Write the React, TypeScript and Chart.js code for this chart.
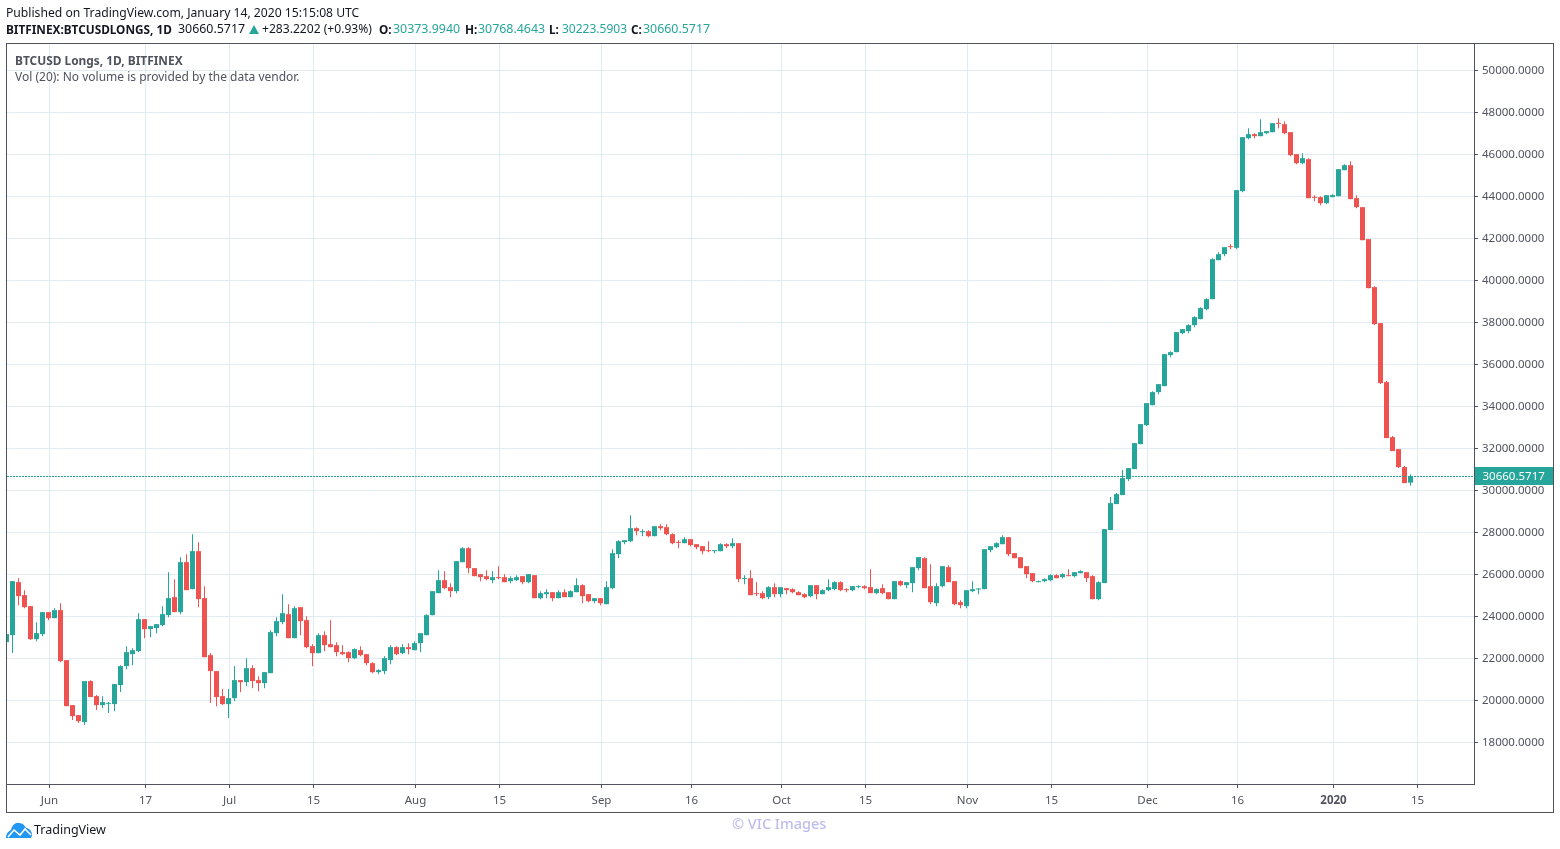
import { useEffect, useRef } from "react"
import { Chart, registerables } from "chart.js"

Chart.register(...registerables)

// daily candles, 25 May 2019 to 14 Jan 2020
const opens = [
  22779,23113,25636,25017,24493,22922,23160,24208,23922,24303,
  21922,19780,19304,18971,20923,20208,19780,19843,19828,20732,
  21637,22208,22351,23874,23398,23446,23589,24065,24922,24208,
  26588,25303,27112,24874,22160,21399,20208,19828,20113,20970,
  20874,21541,20970,20827,21303,23207,23731,24112,22969,24445,
  23826,22588,22255,23112,22684,22636,22303,22303,22017,22398,
  22207,21779,21350,21398,21922,22541,22255,22541,22398,22731,
  23112,24064,25112,25730,25397,25207,26587,27254,26302,26016,
  25921,25730,25873,25873,25683,25730,25921,25635,25968,24873,
  25064,25159,24873,25159,24921,25159,25492,25064,24730,24873,
  24587,25349,26968,27539,27587,28206,28016,28063,27825,28301,
  28254,27920,27555,27492,27682,27444,27349,27159,27111,27111,
  27444,27349,27492,25778,25826,25112,25112,24921,25397,25064,
  25350,25302,25159,25064,24969,25492,25064,25254,25302,25635,
  25302,25254,25397,25445,25397,25112,25350,25159,24826,25683,
  25492,25588,26302,26778,25445,24635,25445,26349,25683,24683,
  24493,25207,25286,25302,27159,27302,27444,27778,27016,26825,
  26397,26064,25635,25683,25730,25968,25873,25968,25921,26064,
  26111,25921,24826,25591,28114,29352,29781,30542,31018,32208,
  33113,34065,34684,34970,36446,36589,37493,37588,37874,38160,
  38636,39112,40969,41254,41635,41556,44255,46778,46968,46873,
  47016,47064,47492,47444,47064,46016,45588,45778,43984,43969,
  43683,43969,44017,45254,45492,43921,43493,41969,39684,37970,
  35161,32542,31971,31114,30373.994,
]
const highs = [
  23160,25684,25826,25255,24493,23732,24208,24208,24398,24636,
  21922,19780,19304,20923,20970,20256,20208,19923,20780,21684,
  22589,22494,24160,23874,23541,23636,24493,26112,25779,26826,
  26969,27921,27540,25446,22256,21399,20542,20542,21637,20970,
  22017,21684,21160,21350,23350,23969,25064,24588,24493,24445,
  24017,22684,23207,23302,23826,22779,22636,22350,22493,22588,
  22207,21826,21493,22112,22636,22588,22684,22731,22826,23207,
  24112,25207,26207,26159,25588,26635,27302,27302,26302,26016,
  26206,26159,26397,26016,25921,25968,25921,26016,25968,25206,
  25302,25159,25254,25302,25254,25826,25540,25064,24873,24873,
  25683,27206,27635,27635,28825,28254,28158,28111,28301,28396,
  28396,27968,27635,27777,27682,27444,27349,27587,27159,27492,
  27492,27730,27492,25968,26207,25635,25207,25445,25588,25397,
  25350,25350,25207,25112,25492,25492,25302,25778,25683,25683,
  25350,25445,25492,25492,26254,25350,25540,25159,25683,25730,
  25635,26349,26826,26826,26492,25588,26397,26445,25683,24778,
  25254,25683,25350,27206,27349,27540,27873,27778,27016,26825,
  26397,26064,25714,25826,26016,26016,26064,26254,26111,26206,
  26111,25968,25683,28162,29685,29876,30971,31066,32256,33161,
  34160,34732,35065,36493,36636,37541,37684,37922,38303,38731,
  39160,41064,41350,41588,41730,44302,46825,47254,47016,47682,
  47111,47492,47730,47587,47064,46016,46064,45826,44064,44017,
  44064,44111,45302,45540,45683,44064,43493,41969,39731,37970,
  35209,32590,31971,31162,30768.4643,
]
const lows = [
  22779,22256,24541,24398,22875,22827,23065,23827,23922,21827,
  19732,19066,18923,18828,20161,19542,19637,19399,19494,20399,
  21494,21684,22303,22970,23017,23208,23541,23970,24208,24113,
  25255,25303,24446,22065,19875,19732,19780,19161,19970,20398,
  20684,20589,20446,20589,21303,23064,23636,22969,22969,23112,
  22493,21636,22255,22350,22541,22112,22160,21826,21969,22112,
  21684,21303,21255,21255,21731,22160,22207,22207,22398,22303,
  23112,24064,25112,25302,24921,25112,26587,26064,25921,25683,
  25730,25587,25778,25635,25587,25683,25540,25587,24873,24826,
  24873,24730,24873,24921,24921,25159,24635,24683,24635,24540,
  24587,25302,26778,27444,27539,27873,27825,27777,27825,28111,
  27873,27444,27254,27492,27349,27206,26968,27064,27016,27111,
  27254,27254,25635,25540,25016,24969,24826,24826,24921,24921,
  25064,25112,25016,24873,24921,24826,25064,25207,25254,25207,
  25159,25207,25350,25302,25112,25064,25064,24826,24826,25445,
  25350,25159,26207,25350,24588,24493,25397,25635,24540,24397,
  24397,25159,25064,25302,27064,27254,27444,26873,26778,26302,
  25826,25635,25635,25635,25683,25826,25826,25921,25873,26064,
  25635,24826,24778,25591,28114,29352,29781,30447,31018,32208,
  33066,34065,34589,34970,36351,36589,37446,37493,37779,38160,
  38588,39112,40969,41159,41492,41492,44207,46730,46778,46873,
  46968,47064,47254,46968,45921,45540,45540,43921,43778,43588,
  43636,43969,44017,45254,43874,43445,41921,39636,37875,35066,
  32495,31876,31066,30352,30223.5903,
]
const closes = [
  23160,25684,24970,24446,22922,23208,24208,23922,24303,21875,
  19732,19256,19018,20923,20161,19780,19923,19891,20780,21637,
  22303,22399,23874,23398,23541,23636,24113,24874,24208,26588,
  25255,27112,24827,22065,21399,20161,19828,20113,20970,20874,
  21541,20922,20827,21350,23255,23779,24159,22969,24397,23779,
  22541,22255,23112,22636,22541,22303,22207,22017,22445,22160,
  21779,21350,21445,22017,22541,22207,22541,22445,22731,23207,
  24064,25207,25730,25350,25207,26635,27254,26302,25921,25873,
  25778,25873,25826,25635,25826,25873,25635,26016,24873,25111,
  25159,24873,25159,24921,25206,25492,24968,24730,24873,24635,
  25397,27016,27587,27635,28206,28063,28063,27825,28301,28206,
  27920,27492,27508,27682,27397,27301,27111,27111,27159,27444,
  27349,27492,25778,25826,25016,25064,24873,25397,25064,25397,
  25254,25159,25016,24921,25492,25064,25254,25397,25635,25254,
  25254,25445,25445,25350,25112,25302,25112,24826,25683,25492,
  25635,26349,26826,25350,24683,25445,26397,25635,24588,24540,
  25254,25302,25318,27206,27349,27492,27778,26968,26778,26302,
  26016,25683,25683,25778,25968,25826,26016,25921,26111,26159,
  25826,24826,25635,28162,29399,29828,30590,31066,32256,33161,
  34160,34684,35065,36493,36589,37541,37684,37874,38255,38683,
  39112,41016,41254,41588,41588,44302,46825,46968,46873,47064,
  47111,47492,47460,47016,45968,45588,45826,43921,43937,43683,
  44064,44064,45302,45492,43874,43493,41921,39636,37922,35113,
  32495,31876,31114,30352,30660.5717,
]

// day index of each time axis label (0 = first candle)
const xTickDays = [7, 23, 37, 51, 68, 82, 99, 114, 129, 143, 160, 174, 190, 205, 221, 235]
const xTickLabels = ["Jun", "17", "Jul", "15", "Aug", "15", "Sep", "16", "Oct", "15", "Nov", "15", "Dec", "16", "2020", "15"]
const yTicks = [18000, 20000, 22000, 24000, 26000, 28000, 30000, 32000, 34000, 36000, 38000, 40000, 42000, 44000, 46000, 48000, 50000]

const UP = "#26a69a"
const DOWN = "#ef5350"
const GRID = "#e1ecf2"
const LINE = "#50535e"
const FONT = '"Noto Sans", sans-serif'

const colorAt = (i: number) => (closes[i] >= opens[i] ? UP : DOWN)

// pane frame, last price line and its label on the price axis
const framePlugin = {
  id: "frame",
  afterDatasetsDraw(chart: any) {
    const { ctx, chartArea, scales } = chart
    const last = closes[closes.length - 1]
    const y = Math.floor(scales.y.getPixelForValue(last)) + 0.5
    ctx.save()
    ctx.strokeStyle = UP
    ctx.lineWidth = 1
    ctx.setLineDash([2, 1])
    ctx.beginPath()
    ctx.moveTo(chartArea.left, y)
    ctx.lineTo(chartArea.right, y)
    ctx.stroke()
    ctx.setLineDash([])
    ctx.strokeStyle = LINE
    ctx.strokeRect(6.5, 43.5, 1547, 769)
    ctx.fillStyle = UP
    ctx.fillRect(1475, y - 9.5, 78, 18)
    ctx.fillStyle = "#ffffff"
    ctx.font = "11.5px " + FONT
    ctx.textBaseline = "middle"
    ctx.fillText(last.toFixed(4), 1482.5, y + 0.5)
    ctx.restore()
  },
}

const abs = (left: number, top: number, extra: any = {}): any => ({
  position: "absolute",
  left,
  top,
  lineHeight: "16px",
  whiteSpace: "nowrap",
  ...extra,
})

export default function App() {
  const chartRef = useRef<HTMLCanvasElement>(null)

  useEffect(() => {
    if (!chartRef.current) return
    const days = opens.map((_, i) => i)
    const chart = new Chart(chartRef.current, {
      type: "bar",
      data: {
        datasets: [
          {
            label: "wick",
            data: days.map((i) => ({ x: i, y: [lows[i], highs[i]] })) as any,
            backgroundColor: (c: any) => colorAt(c.dataIndex),
            barThickness: 1,
            inflateAmount: 0,
            borderWidth: 0,
          },
          {
            label: "body",
            data: days.map((i) => ({ x: i, y: [opens[i], closes[i]] })) as any,
            backgroundColor: (c: any) => colorAt(c.dataIndex),
            barThickness: 5,
            minBarLength: 1,
            inflateAmount: 0,
            borderWidth: 0,
          },
        ],
      },
      options: {
        responsive: false,
        animation: false,
        layout: { padding: { left: 7, top: 44, right: 6, bottom: 36 } },
        plugins: { legend: { display: false }, tooltip: { enabled: false } },
        datasets: { bar: { grouped: false } },
        scales: {
          x: {
            type: "linear",
            offset: false,
            min: 0.0833,
            max: 244.5833,
            afterBuildTicks: (s: any) => {
              s.ticks = xTickDays.map((d) => ({ value: d + 1 / 6 }))
            },
            afterFit: (s: any) => {
              s.height = 29
            },
            grid: { offset: false, color: GRID, tickColor: LINE, tickLength: 4 },
            border: { color: LINE },
            ticks: {
              callback: (_v: any, i: number) => xTickLabels[i],
              autoSkip: false,
              maxRotation: 0,
              color: LINE,
              padding: 6,
              font: (c: any) => ({
                family: FONT,
                size: 11.5,
                weight: xTickLabels[c.index] === "2020" ? "bold" : "normal",
              }),
            },
          },
          y: {
            type: "linear",
            position: "right",
            min: 16023.8,
            max: 51261.9,
            afterBuildTicks: (s: any) => {
              s.ticks = yTicks.map((v) => ({ value: v }))
            },
            afterFit: (s: any) => {
              s.width = 80
            },
            grid: { color: GRID, tickColor: LINE, tickLength: 4 },
            border: { color: LINE },
            ticks: {
              callback: (v: any) => Number(v).toFixed(4),
              color: LINE,
              padding: 4,
              font: { family: FONT, size: 11.5 },
            },
          },
        },
      } as any,
      plugins: [framePlugin],
    })

    return () => {
      chart.destroy()
    }
  }, [])

  const bold = { fontWeight: 700, color: "#131722", fontSize: 11.8 }
  const val = { color: UP, fontSize: 12.4 }

  return (
    <div
      style={{
        position: "absolute",
        left: 0,
        top: 0,
        width: 1560,
        height: 849,
        overflow: "hidden",
        background: "#fff",
        fontFamily: FONT,
        fontSize: 12.1,
        color: "#131722",
      }}
    >
      <canvas ref={chartRef} width={1560} height={849} style={{ position: "absolute", left: 0, top: 0 }} />

      <div style={abs(6, 4.5, { fontSize: 12.17 })}>Published on TradingView.com, January 14, 2020 15:15:08 UTC</div>
      <div style={abs(6, 21, bold)}>BITFINEX:BTCUSDLONGS, 1D</div>
      <div style={abs(178, 21, { fontSize: 12.4 })}>30660.5717</div>
      <div style={abs(249, 21, { width: 0, height: 0, borderLeft: "5px solid transparent", borderRight: "5px solid transparent", borderBottom: `9px solid ${UP}`, top: 25 })} />
      <div style={abs(262, 21)}>+283.2202 (+0.93%)</div>
      <div style={abs(379, 21, bold)}>O:</div>
      <div style={abs(393, 21, val)}>30373.9940</div>
      <div style={abs(465, 21, bold)}>H:</div>
      <div style={abs(478, 21, val)}>30768.4643</div>
      <div style={abs(549, 21, bold)}>L:</div>
      <div style={abs(562, 21, { color: UP, fontSize: 12 })}>30223.5903</div>
      <div style={abs(631, 21, bold)}>C:</div>
      <div style={abs(643, 21, val)}>30660.5717</div>

      <div style={abs(15, 51.5, { color: LINE, fontWeight: 700, fontSize: 11.9 })}>BTCUSD Longs, 1D, BITFINEX</div>
      <div style={abs(15, 69, { color: LINE, fontSize: 12 })}>Vol (20): No volume is provided by the data vendor.</div>

      <svg width={26} height={16} viewBox="0 0 26 16" style={{ position: "absolute", left: 6, top: 822 }}>
        <path d="M0 16C0 11 3 9 5 8C6 3 10 0 13 1C17 1 19 4 20 6C24 6 26 10 26 13C26 14 25.5 15 25 16Z" fill="#2196f3" />
        <polyline points="2,15 8,8 14,13 19,7 25,13" fill="none" stroke="#fff" strokeWidth={1.6} />
      </svg>
      <div style={abs(34, 822, { fontSize: 12.5 })}>TradingView</div>
      <div style={abs(732, 815, { fontSize: 14.5, color: "#bdbdec", fontWeight: 500 })}>© VIC Images</div>
    </div>
  )
}
